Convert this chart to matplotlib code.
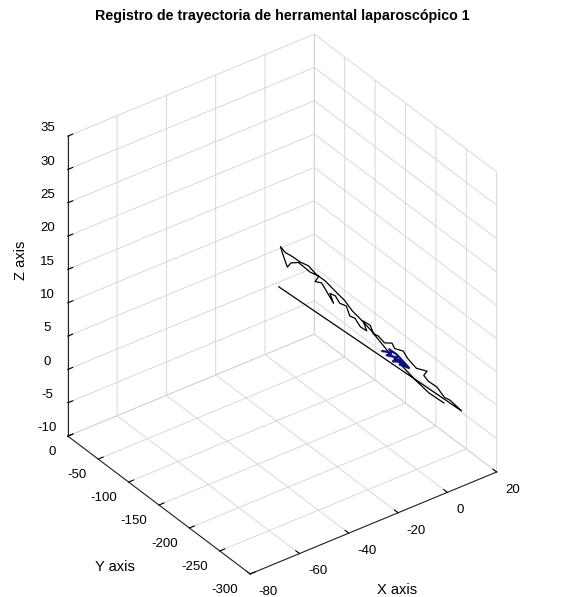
import numpy as np
import matplotlib
matplotlib.use('Agg')
import matplotlib.pyplot as plt

plt.rcParams['font.family'] = ['Liberation Sans', 'DejaVu Sans']
plt.rcParams['grid.color'] = '#d2d2d2'
plt.rcParams['grid.linewidth'] = 0.6
plt.rcParams['axes.unicode_minus'] = False

# trayectoria registrada (x, y, z)
x = [5.6, 14.4, 10.0, 7.2, 4.4, 1.2, -1.2, 0.4, -3.7, -7.7, -9.3, -12.5, -14.1, -16.9,
     -18.9, -21.3, -22.9, -25.3, -24.1, -26.9, -28.6, -31.0, -32.6, -35.0, -36.6,
     -39.0, -37.8, -40.6, -42.2, -45.0, -43.8, -47.0, -49.8, -51.8, -55.1, -56.3,
     -57.5, -59.1, -57.1, -54.3, -51.0, -47.8, -44.6, -41.0, -37.0, -33.0, -30.2,
     -26.9, -22.1, -18.9, -15.7, -10.9, -4.9, 1.2, 7.2]
y = [0.0, -265, -264, -266, -265, -263, -266, -265, -264, -266, -265, -264, -266,
     -265, -263, -265, -266, -264, -265, -266, -264, -265, -266, -265, -264, -265,
     -266, -265, -264, -265, -266, -265, -264, -265, -266, -265, -264, -265, -265,
     -266, -264, -265, -266, -265, -264, -265, -266, -265, -264, -265, -266, -265,
     -264, -265, -265]
z = [-0.7, -2.4, -0.2, 0.8, 2.7, 4.0, 5.4, 5.7, 6.7, 8.9, 10.2, 11.0, 12.2, 12.6,
     13.8, 14.6, 16.2, 17.1, 15.5, 16.6, 18.0, 18.8, 20.6, 21.3, 22.6, 23.4, 21.8,
     24.1, 25.4, 26.1, 26.8, 27.8, 29.1, 30.0, 30.5, 30.0, 31.6, 33.5, 32.3, 31.3,
     29.9, 28.9, 27.1, 25.6, 23.5, 21.4, 19.5, 17.8, 15.2, 13.2, 11.2, 8.7, 5.4,
     2.3, -0.1]

# tramo marcado en azul
xb = [-17.7, -14.1, -15.7, -11.7, -13.7, -9.7, -12.5, -8.5, -10.9, -6.9, -11.7, -14.9]
yb = [-265, -265, -264, -265, -266, -265, -264, -265, -266, -265, -264, -265]
zb = [11.5, 10.7, 10.5, 9.6, 9.4, 8.7, 9.5, 7.9, 8.5, 7.3, 10.0, 11.3]

xticks = [-80, -60, -40, -20, 0, 20]
yticks = [-300, -250, -200, -150, -100, -50, 0]
zticks = [-10, -5, 0, 5, 10, 15, 20, 25, 30, 35]

fig = plt.figure(figsize=(5.64, 5.97), dpi=100)
ax = fig.add_axes([-0.013, 0.008, 1.0, 0.94], projection='3d', proj_type='ortho')

ax.plot(x, y, z, color='k', linewidth=0.9)
ax.plot(xb, yb, zb, color='#10107a', linewidth=1.6)

ax.set_xlim(-80, 20)
ax.set_ylim(-300, 0)
ax.set_zlim(-10, 35)
ax.set_xticks(xticks)
ax.set_yticks(yticks)
ax.set_zticks(zticks)
ax.set_box_aspect((1, 1, 1.18), zoom=0.977)
ax.view_init(elev=34, azim=-126.5)

for a in (ax.xaxis, ax.yaxis, ax.zaxis):
    a.set_pane_color((1, 1, 1, 0))
    a.pane.set_edgecolor('#d2d2d2')
    a.line.set_color('#262626')
    a.line.set_linewidth(0.8)
    a._axinfo['tick']['inward_factor'] = 0.0
    a._axinfo['tick']['outward_factor'] = 0.25
    a.set_tick_params(labelsize=9.5, colors='k', pad=2)

for t in ax.get_yticklabels():
    t.set_ha('right')
    t.set_va('baseline')
for t in ax.get_xticklabels():
    t.set_ha('left')
    t.set_va('baseline')
for t in ax.get_zticklabels():
    t.set_va('bottom')

fig.text(0.204, 0.05, 'Y axis', fontsize=10.5, ha='center', va='center')
fig.text(0.704, 0.012, 'X axis', fontsize=10.5, ha='center', va='center')
fig.text(0.038, 0.564, 'Z axis', fontsize=10.5, ha='center', va='center', rotation=90)

fig.suptitle('Registro de trayectoria de herramental laparoscópico 1',
             fontsize=10.3, fontweight='bold', y=0.985)

fig.savefig('out.png', dpi=100)
